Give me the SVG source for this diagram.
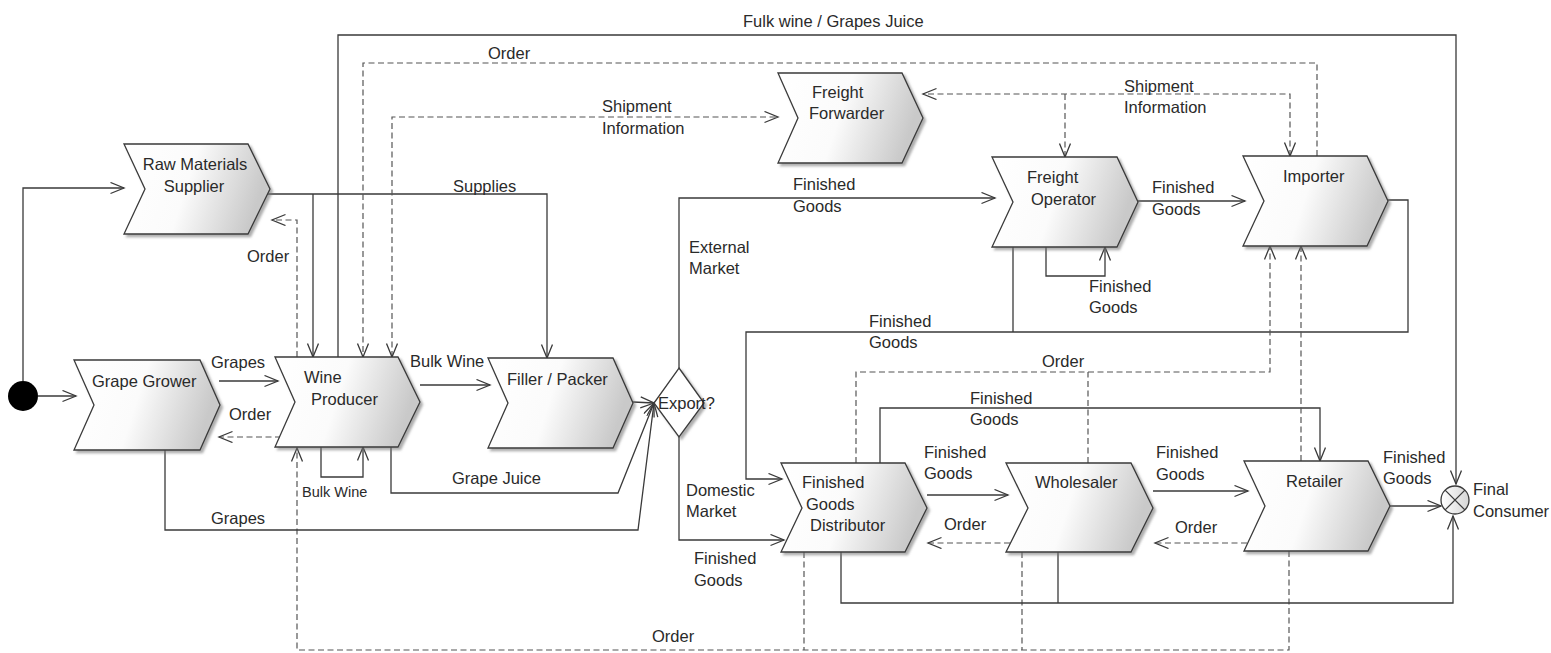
<svg xmlns="http://www.w3.org/2000/svg" width="1551" height="653" viewBox="0 0 1551 653">
<style>
.n{fill:url(#g);stroke:#3a3a3a;stroke-width:1.3;filter:url(#sh)}
.c path,.c line{fill:none;stroke:#3a3a3a;stroke-width:1.3}
.c .d{stroke:#555;stroke-width:1.2;stroke-dasharray:6,3.5}
.c .a{marker-end:url(#ar)}
.c .b{marker-start:url(#ar);marker-end:url(#ar)}
text{font-family:"Liberation Sans",Arial,sans-serif;font-size:16.5px;fill:#2a2a2a}
.m{text-anchor:middle}
.s{font-size:14.5px}
</style>
<defs>
<linearGradient id="g" x1="0" y1="0" x2="1" y2="0.2">
<stop offset="0" stop-color="#ffffff"/>
<stop offset="0.5" stop-color="#fbfbfb"/>
<stop offset="1" stop-color="#c9c9c9"/>
</linearGradient>
<linearGradient id="g2" x1="0" y1="0" x2="1" y2="0">
<stop offset="0" stop-color="#ffffff"/>
<stop offset="1" stop-color="#d5d5d5"/>
</linearGradient>
<filter id="sh" x="-10%" y="-10%" width="125%" height="130%">
<feDropShadow dx="2.5" dy="2.5" stdDeviation="1.2" flood-color="#777" flood-opacity="0.6"/>
</filter>
<marker id="ar" markerWidth="16" markerHeight="14" refX="14" refY="6" orient="auto-start-reverse" markerUnits="userSpaceOnUse">
<path d="M0.5,0.5 L14,6 L0.5,11.5" fill="none" stroke="#3a3a3a" stroke-width="1.3"/>
</marker>
</defs>
<rect width="1551" height="653" fill="#ffffff"/>

<g id="connectors" class="c">
<path class="a" d="M23,381 L23,188 L124,188"/>
<path class="a" d="M38,396 L76,396"/>
<path class="a" d="M268,194 L547,194 L547,358"/>
<path class="a" d="M313,194 L313,357"/>
<path class="a" d="M338,357 L338,35 L1456,35 L1456,484"/>
<path class="d a" d="M1317,156 L1317,63 L363,63 L363,357"/>
<path class="d b" d="M392,357 L392,117 L778,117"/>
<path class="d b" d="M1290,156 L1290,94 L923,94"/>
<path class="d a" d="M1065,94 L1065,157"/>
<path class="d a" d="M297,357 L297,220 L272,220"/>
<path class="d a" d="M1289,551 L1289,650 L297,650 L297,448"/>
<path class="d" d="M804,552 L804,650"/>
<path class="d" d="M1022,552 L1022,650"/>
<path class="a" d="M219,381 L278,381"/>
<path class="d a" d="M281,437 L219,437"/>
<path class="a" d="M321,447 L321,477 L363,477 L363,447"/>
<path class="a" d="M420,385 L490,385"/>
<path class="a" d="M391,447 L391,493 L618,493 L654,403"/>
<path class="a" d="M165,450 L165,530 L638,530 L654,403"/>
<path class="a" d="M633,402 L654,403"/>
<path class="a" d="M679,368 L679,198 L995,198"/>
<path class="a" d="M679,437 L679,540 L784,540"/>
<path class="a" d="M1388,200 L1408,200 L1408,332 L746,332 L746,479 L782,479"/>
<path d="M1013,247 L1013,332"/>
<path class="a" d="M1046,247 L1046,276 L1105,276 L1105,247"/>
<path class="a" d="M1138,201 L1245,201"/>
<path class="a" d="M880,463 L880,408 L1320,408 L1320,461"/>
<path class="a" d="M927,495 L1008,495"/>
<path class="d a" d="M1010,543 L928,543"/>
<path class="d a" d="M856,463 L856,372 L1270,372 L1270,246"/>
<path class="d" d="M1088,463 L1088,372"/>
<path class="d a" d="M1301,461 L1301,246"/>
<path class="a" d="M1153,491 L1248,491"/>
<path class="d a" d="M1247,543 L1155,543"/>
<path class="a" d="M1390,506 L1441,506"/>
<path class="a" d="M841,552 L841,603 L1453,603 L1453,516"/>
<path d="M1058,552 L1058,603"/>
</g>

<g id="start"><circle cx="23" cy="396" r="15" fill="#000"/></g>

<g id="raw-materials-supplier">
<polygon class="n" points="124,144 248,144 270,189 248,234 124,234 145,189"/>
<text class="m" x="195" y="170">Raw Materials</text>
<text class="m" x="194" y="192">Supplier</text>
</g>
<g id="grape-grower">
<polygon class="n" points="74,360 200,360 220,405 200,450 74,450 94,405"/>
<text x="92" y="387">Grape Grower</text>
</g>
<g id="wine-producer">
<polygon class="n" points="275,357 398,357 420,402 398,447 275,447 295,402"/>
<text x="304" y="383">Wine</text>
<text x="311" y="405">Producer</text>
</g>
<g id="filler-packer">
<polygon class="n" points="488,358 613,358 633,403 613,448 488,448 508,403"/>
<text x="507" y="385">Filler / Packer</text>
</g>
<g id="export">
<polygon points="679,368 704,403 679,437 654,403" fill="#fff" stroke="#3a3a3a" stroke-width="1.3" filter="url(#sh)"/>
<text x="658" y="409">Export?</text>
</g>
<g id="freight-forwarder">
<polygon class="n" points="778,73 902,73 923,118 902,163 778,163 798,118"/>
<text x="812" y="98">Freight</text>
<text x="809" y="119">Forwarder</text>
</g>
<g id="freight-operator">
<polygon class="n" points="992,157 1117,157 1138,202 1117,247 992,247 1013,202"/>
<text x="1027" y="183">Freight</text>
<text x="1031" y="205">Operator</text>
</g>
<g id="importer">
<polygon class="n" points="1243,156 1367,156 1388,201 1367,246 1243,246 1264,201"/>
<text x="1283" y="182">Importer</text>
</g>
<g id="finished-goods-distributor">
<polygon class="n" points="781,463 905,463 927,508 905,552 781,552 802,508"/>
<text x="802" y="488">Finished</text>
<text x="806" y="510">Goods</text>
<text x="810" y="531">Distributor</text>
</g>
<g id="wholesaler">
<polygon class="n" points="1006,463 1131,463 1153,508 1131,552 1006,552 1028,508"/>
<text x="1035" y="488">Wholesaler</text>
</g>
<g id="retailer">
<polygon class="n" points="1244,461 1368,461 1390,506 1368,551 1244,551 1265,506"/>
<text x="1286" y="487">Retailer</text>
</g>
<g id="final-consumer">
<circle cx="1455" cy="500" r="14" fill="url(#g2)" stroke="#3a3a3a" stroke-width="1.3"/>
<path d="M1445.1,490.1 L1464.9,509.9 M1464.9,490.1 L1445.1,509.9" stroke="#3a3a3a" stroke-width="1.3"/>
<text x="1473" y="495">Final</text>
<text x="1473" y="517">Consumer</text>
</g>

<g id="labels">
<text x="743" y="27">Fulk wine / Grapes Juice</text>
<text x="488" y="59">Order</text>
<text x="602" y="112">Shipment</text>
<text x="602" y="134">Information</text>
<text x="1124" y="92">Shipment</text>
<text x="1124" y="113">Information</text>
<text x="453" y="192">Supplies</text>
<text x="247" y="262">Order</text>
<text x="211" y="368">Grapes</text>
<text x="229" y="420">Order</text>
<text x="410" y="367">Bulk Wine</text>
<text class="s" x="302" y="497">Bulk Wine</text>
<text x="452" y="484">Grape Juice</text>
<text x="211" y="524">Grapes</text>
<text x="689" y="253">External</text>
<text x="689" y="274">Market</text>
<text x="793" y="190">Finished</text>
<text x="793" y="212">Goods</text>
<text x="686" y="496">Domestic</text>
<text x="686" y="517">Market</text>
<text x="694" y="564">Finished</text>
<text x="694" y="586">Goods</text>
<text x="869" y="327">Finished</text>
<text x="869" y="348">Goods</text>
<text x="1089" y="292">Finished</text>
<text x="1089" y="313">Goods</text>
<text x="1152" y="193">Finished</text>
<text x="1152" y="215">Goods</text>
<text x="1042" y="367">Order</text>
<text x="970" y="404">Finished</text>
<text x="970" y="425">Goods</text>
<text x="924" y="458">Finished</text>
<text x="924" y="479">Goods</text>
<text x="944" y="530">Order</text>
<text x="1156" y="458">Finished</text>
<text x="1156" y="480">Goods</text>
<text x="1175" y="533">Order</text>
<text x="1383" y="463">Finished</text>
<text x="1383" y="484">Goods</text>
<text x="652" y="642">Order</text>
</g>
</svg>
